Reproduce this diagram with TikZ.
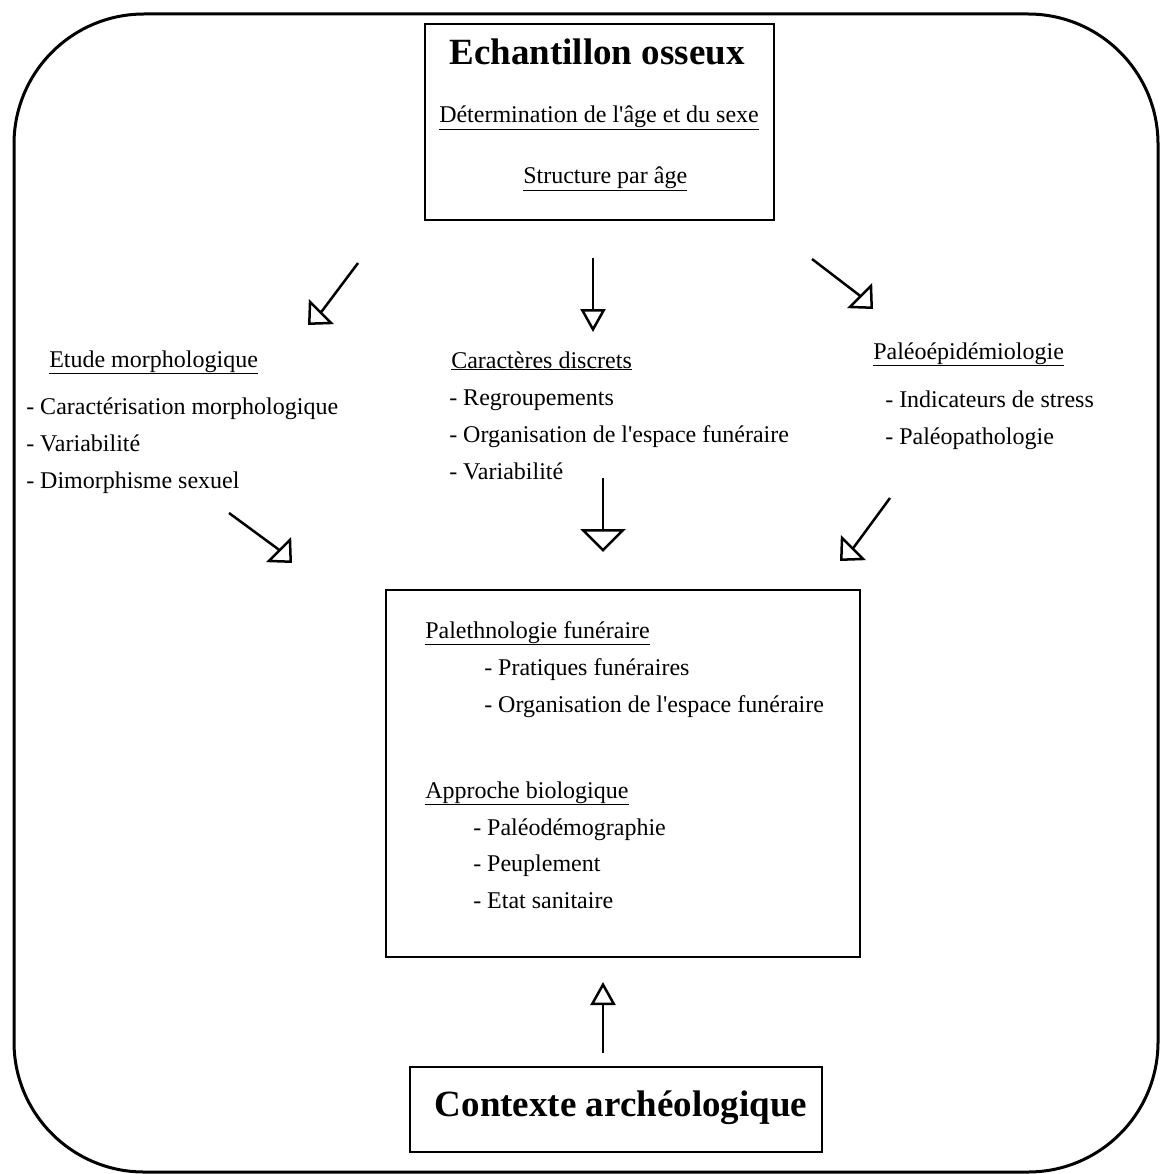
\documentclass[tikz,border=0pt]{standalone}
\usepackage{fontspec}
\setmainfont{Liberation Serif}
\usepackage{tikz}
\usetikzlibrary{arrows.meta}

\begin{document}
\begin{tikzpicture}[x=1pt,y=-1pt,line width=2.5pt,
                    texte/.style={anchor=base west,inner sep=0pt,font=\fontsize{24}{28}\selectfont},
                    titre/.style={anchor=base,inner sep=0pt,font=\bfseries\fontsize{37}{44}\selectfont},
                    boite/.style={draw,line width=2.5pt},
                    diag fleche/.style={-{Triangle[open,length=19pt,width=35pt]}},
                    fleche/.style={-{Triangle[open,length=23pt,width=25pt]}},
                    large fleche/.style={-{Triangle[open,length=23pt,width=45pt]}}]

  \useasboundingbox (0,0) rectangle (1161,1174);
  \draw[line width=3pt,rounded corners=130pt] (14,14) rectangle (1158,1172);

  % boites
  \draw[boite] (425,24) rectangle (774,220);
  \draw[boite] (386,590) rectangle (860,957);
  \draw[boite] (410,1067) rectangle (822,1152);

  \node[titre] (echant) at (597,65) {Echantillon osseux};
  \node[texte] (determ) at (438,123) {\underline{Détermination de l\textquotesingle âge et du sexe}};
  \node[texte] (struct) at (522,184) {\underline{Structure par âge}};

  \node[titre] (contexte) at (621,1116) {Contexte archéologique};

  % colonne gauche
  \node[texte] (etude) at (48,367) {\underline{Etude morphologique}};
  \node[texte] (caract) at (25,414) {- Caractérisation morphologique};
  \node[texte] (variab) at (25,451) {- Variabilité};
  \node[texte] (dimorph) at (25,488) {- Dimorphisme sexuel};

  % colonne centre
  \node[texte] (discrets) at (450,368) {\underline{Caractères discrets}};
  \node[texte] (regroup) at (448,405) {- Regroupements};
  \node[texte] (organis) at (448,442) {- Organisation de l\textquotesingle espace funéraire};
  \node[texte] (variabc) at (448,479) {- Variabilité};

  % colonne droite
  \node[texte] (paleoep) at (872,359) {\underline{Paléoépidémiologie}};
  \node[texte] (stress) at (884,407) {- Indicateurs de stress};
  \node[texte] (paleopath) at (884,444) {- Paléopathologie};

  % boite centrale
  \node[texte] (palethno) at (424,638) {\underline{Palethnologie funéraire}};
  \node[texte] (pratiques) at (483,675) {- Pratiques funéraires};
  \node[texte] (organisb) at (483,712) {- Organisation de l\textquotesingle espace funéraire};
  \node[texte] (approche) at (424,798) {\underline{Approche biologique}};
  \node[texte] (demo) at (472,835) {- Paléodémographie};
  \node[texte] (peupl) at (472,871) {- Peuplement};
  \node[texte] (sanit) at (472,908) {- Etat sanitaire};

  % fleches (pointes en diagonale a 45 degres)
  \coordinate (h1) at (358,263);  \coordinate (h1t) at (308,325);
  \coordinate (h2) at (593,258);  \coordinate (h2t) at (593,332);
  \coordinate (h3) at (812,259);  \coordinate (h3t) at (873,309);
  \coordinate (b1) at (229,513);  \coordinate (b1t) at (292,563);
  \coordinate (b2) at (603,478);  \coordinate (b2t) at (603,552);
  \coordinate (b3) at (890,498);  \coordinate (b3t) at (840,561);
  \coordinate (c1) at (603,1053); \coordinate (c1t) at (603,982);

  \draw[diag fleche] (h1) -- ([shift={(14,-14)}]h1t) -- (h1t);
  \draw[fleche] (h2) -- (h2t);
  \draw[diag fleche] (h3) -- ([shift={(-14,-14)}]h3t) -- (h3t);
  \draw[diag fleche] (b1) -- ([shift={(-14,-14)}]b1t) -- (b1t);
  \draw[large fleche] (b2) -- (b2t);
  \draw[diag fleche] (b3) -- ([shift={(14,-14)}]b3t) -- (b3t);
  \draw[fleche] (c1) -- (c1t);
\end{tikzpicture}
\end{document}
